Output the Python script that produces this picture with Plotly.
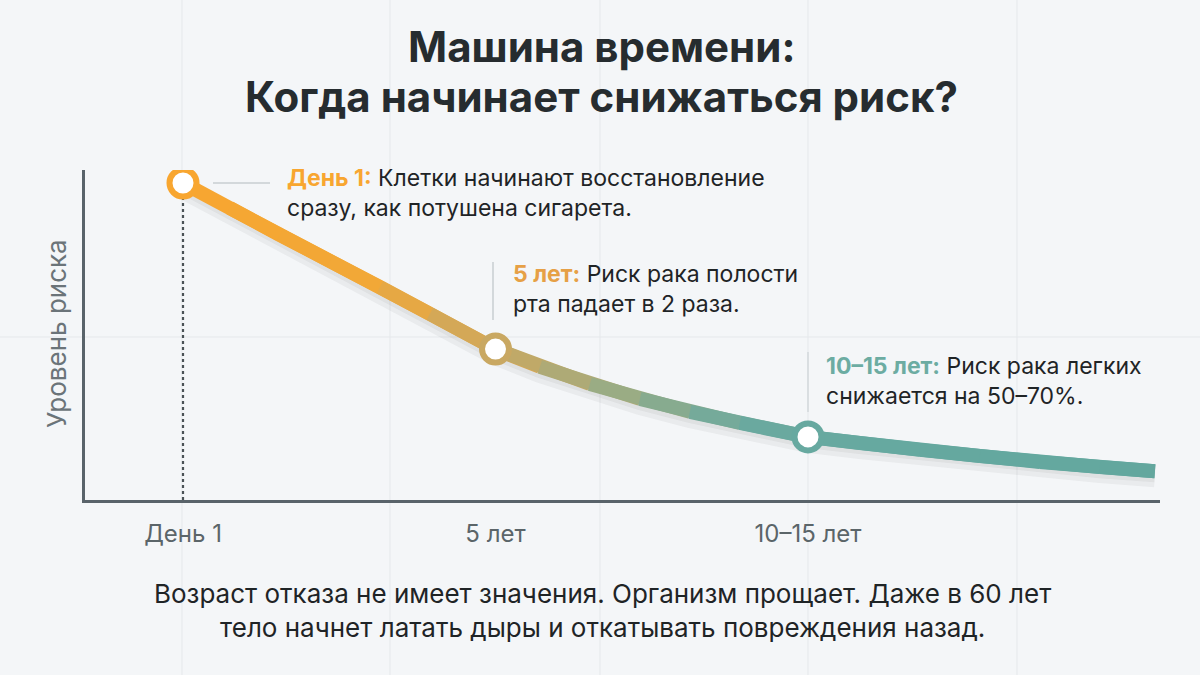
import plotly.graph_objects as go

# ---- data ----
years = [0, 0.75, 1.55, 2.35, 3.15, 3.95, 5.0,
         5.71, 6.51, 7.31, 8.11, 8.91, 10.0,
         10.83, 11.79, 12.75, 13.71, 14.67, 15.55]
risk = [100, 92.1, 83.6, 75.4, 67.2, 58.7, 47.6,
        42.0, 36.6, 31.9, 27.8, 24.3, 19.9,
        18.0, 15.8, 13.9, 12.0, 10.4, 9.1]

milestone_x = [0, 5, 10]
milestone_y = [100, 47.6, 19.9]
tick_labels = ["День 1", "5 лет", "10–15 лет"]

milestone_titles = ["День 1:", "5 лет:", "10–15 лет:"]
milestone_texts = [
    "Клетки начинают восстановление<br>сразу, как потушена сигарета.",
    "Риск рака полости<br>рта падает в 2 раза.",
    "Риск рака легких<br>снижается на 50–70%.",
]

title_lines = ["Машина времени:", "Когда начинает снижаться риск?"]
footer = ("Возраст отказа не имеет значения. Организм прощает. Даже в 60 лет<br>"
          "тело начнет латать дыры и откатывать повреждения назад.")
y_title = "Уровень риска"

# ---- styling ----
BG = "#f4f6f8"
DARK = "#262c2f"
AXIS = "#59636a"
stops = [(0, (248, 166, 48)), (3, (241, 168, 56)), (5, (201, 168, 98)),
         (7, (152, 172, 134)), (8.8, (110, 170, 158)), (10, (103, 169, 160)),
         (16, (98, 167, 158))]


def grad(x):
    for (x0, c0), (x1, c1) in zip(stops[:-1], stops[1:]):
        if x0 <= x <= x1:
            t = (x - x0) / (x1 - x0)
            return "rgb(%d,%d,%d)" % tuple(round(a + (b - a) * t) for a, b in zip(c0, c1))
    return "rgb(%d,%d,%d)" % stops[-1][1]


title_colors = [grad(v) for v in milestone_x]
title_colors[1] = "rgb(230,160,70)"
title_colors[2] = "rgb(108,172,162)"

fig = go.Figure()

# soft shadow under the curve
fig.add_trace(go.Scatter(x=years, y=[v - 1.6 for v in risk], mode="lines",
                         line=dict(color="rgba(40,40,40,0.05)", width=22),
                         hoverinfo="skip", showlegend=False))
fig.add_trace(go.Scatter(x=years, y=[v - 1.0 for v in risk], mode="lines",
                         line=dict(color="rgba(40,40,40,0.05)", width=16),
                         hoverinfo="skip", showlegend=False))
# gradient segments (each overlaps the next point so joins stay round)
for i in range(len(years) - 1):
    j = min(i + 3, len(years))
    fig.add_trace(go.Scatter(x=years[i:j], y=risk[i:j], mode="lines",
                             line=dict(color=grad((years[i] + years[i + 1]) / 2), width=14),
                             hoverinfo="skip", showlegend=False))

# dotted drop line from day 1
fig.add_trace(go.Scatter(x=[milestone_x[0], milestone_x[0]], y=[0, milestone_y[0]], mode="lines",
                         line=dict(color="#4a5256", width=2.2, dash="dot"),
                         hoverinfo="skip", showlegend=False))

# milestone markers
fig.add_trace(go.Scatter(x=milestone_x, y=milestone_y, mode="markers",
                         marker=dict(size=27, color="white",
                                     line=dict(color=[grad(v) for v in milestone_x], width=6)),
                         hoverinfo="skip", showlegend=False))

annotations = []
shifts = [(102, -10), (15, 60), (16, 56)]
for mx, my, t, txt, col, (dx, dy) in zip(milestone_x, milestone_y, milestone_titles,
                                         milestone_texts, title_colors, shifts):
    annotations.append(dict(
        x=mx, y=my, xref="x", yref="y", xanchor="left", yanchor="middle",
        xshift=dx, yshift=dy, showarrow=False, align="left",
        text=f"<b><span style='color:{col}'>{t}</span></b> {txt}",
        font=dict(family="Inter, Roboto, sans-serif", size=23, color="#1f2426")))

# titles / footer / y label
W0, W1, H0, H1 = 85, 1160, 170, 500


def px(xp):
    return (xp - W0) / (W1 - W0)


def py(yp):
    return (H1 - yp) / (H1 - H0)


annotations.append(dict(x=px(601), y=py(47), xref="paper", yref="paper", showarrow=False,
                        text=f"<b>{title_lines[0]}</b>", xanchor="center", yanchor="middle",
                        font=dict(family="Inter, sans-serif", size=42, color=DARK)))
annotations.append(dict(x=px(601), y=py(96), xref="paper", yref="paper", showarrow=False,
                        text=f"<b>{title_lines[1]}</b>", xanchor="center", yanchor="middle",
                        font=dict(family="Inter, sans-serif", size=42, color=DARK)))
annotations.append(dict(x=px(602), y=py(610), xref="paper", yref="paper", showarrow=False,
                        text=footer, xanchor="center", yanchor="middle", align="center",
                        font=dict(family="Inter, Roboto, sans-serif", size=26, color="#1f2426")))
annotations.append(dict(x=px(56), y=py(334), xref="paper", yref="paper", showarrow=False,
                        text=y_title, textangle=-90, xanchor="center", yanchor="middle",
                        font=dict(family="Inter, Roboto, sans-serif", size=26, color="#6b7479")))

shapes = []
# faint background grid
for xp in [182, 390, 600, 808, 1017]:
    shapes.append(dict(type="line", xref="paper", yref="paper", x0=px(xp), x1=px(xp),
                       y0=py(0), y1=py(675), line=dict(color="#e5e8eb", width=1), layer="below"))
shapes.append(dict(type="line", xref="paper", yref="paper", x0=px(0), x1=px(1200),
                   y0=py(337), y1=py(337), line=dict(color="#e5e8eb", width=1), layer="below"))
# connector lines
shapes.append(dict(type="line", xref="paper", yref="paper", x0=px(213), x1=px(270),
                   y0=py(183), y1=py(183), line=dict(color="#c9ced2", width=1.5)))
shapes.append(dict(type="line", xref="paper", yref="paper", x0=px(493), x1=px(493),
                   y0=py(262), y1=py(320), line=dict(color="#c9ced2", width=1.5)))
shapes.append(dict(type="line", xref="paper", yref="paper", x0=px(808), x1=px(808),
                   y0=py(352), y1=py(412), line=dict(color="#d3d8db", width=1.5)))

fig.update_layout(
    width=1200, height=675,
    paper_bgcolor=BG, plot_bgcolor="rgba(0,0,0,0)",
    margin=dict(l=W0, r=1200 - W1, t=H0, b=675 - H1),
    annotations=annotations, shapes=shapes,
    xaxis=dict(range=[(W0 - 183) / 62.5, (W1 - 183) / 62.5], showgrid=False, zeroline=False,
               showline=True, linecolor=AXIS, linewidth=2.5,
               tickmode="array", tickvals=milestone_x, ticktext=tick_labels,
               ticks="", ticklabelstandoff=10,
               tickfont=dict(family="Inter, Roboto, sans-serif", size=24, color="#5b6569"),
               fixedrange=True),
    yaxis=dict(range=[0, (H1 - H0) / 3.17], showgrid=False, zeroline=False,
               showline=True, linecolor=AXIS, linewidth=2.5, showticklabels=False,
               ticks="", fixedrange=True),
    showlegend=False,
)

fig.write_html("out.html", config={"displayModeBar": False})
